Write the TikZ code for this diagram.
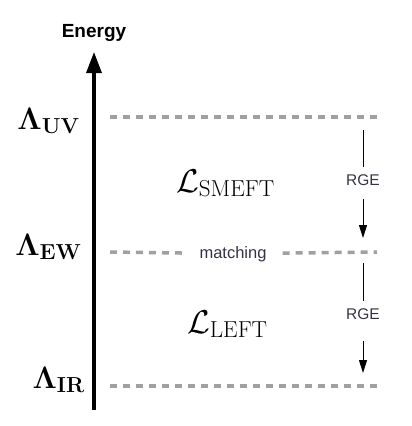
\RequirePackage{fix-cm}
\documentclass[tikz,border=0pt]{standalone}
\usepackage[no-math]{fontspec}
\newfontfamily\arialfont{Liberation Sans}
\usetikzlibrary{arrows.meta, positioning}
\definecolor{scalegray}{HTML}{a0a0a0}
\definecolor{textgray}{HTML}{333344}

\begin{document}
\begin{tikzpicture}[x=1pt, y=1pt, >={Triangle[width=8pt,length=13pt]},
        scaleline/.style={draw=scalegray, line width=3.5pt, dash pattern=on 7pt off 6pt},
        lambda/.style={anchor=base east, inner sep=0pt, font=\fontsize{31}{34}\selectfont},
        lagr/.style={anchor=base west, inner sep=0pt, font=\fontsize{33}{36}\selectfont},
        small text/.style={font=\arialfont\fontsize{15.5}{18}\selectfont, text=textgray}]
    \useasboundingbox (0,0) rectangle (412,-426);
    % energy axis
    \coordinate (axis_bot) at (94,-410);
    \coordinate (axis_top) at (94,-52);
    \node[anchor=base, font=\arialfont\bfseries\fontsize{19}{22}\selectfont] (energy) at (94,-37) {Energy};
    \draw[line width=3.3pt, -{Triangle[width=15pt,length=21pt]}] (axis_bot) -- (axis_top);
    % scales
    \node[lambda] (l_uv) at (80,-129) {$\mathbf{\Lambda_{UV}}$};
    \node[lambda] (l_ew) at (82,-255) {$\mathbf{\Lambda_{EW}}$};
    \node[lambda] (l_ir) at (85,-388) {$\mathbf{\Lambda_{IR}}$};
    \coordinate (uv_l) at (110,-117);
    \coordinate (uv_r) at (377,-117);
    \coordinate (ew_l) at (110,-252);
    \coordinate (ew_r) at (377,-252);
    \coordinate (ir_l) at (110,-386);
    \coordinate (ir_r) at (377,-386);
    \node[small text, anchor=base, font=\arialfont\fontsize{16.5}{19}\selectfont, inner xsep=16pt] (matching) at (233,-258) {matching};
    \draw[scaleline] (uv_l) -- (uv_r);
    \draw[scaleline] (ew_l) -- (matching) -- (ew_r);
    \draw[scaleline] (ir_l) -- (ir_r);
    % lagrangians
    \node[lagr] (smeft) at (176,-192) {$\mathcal{L}_{\mathrm{SMEFT}}$};
    \node[lagr] (left) at (187,-333) {$\mathcal{L}_{\mathrm{LEFT}}$};
    % running
    \coordinate (rge1_s) at (363,-130);
    \coordinate (rge1_e) at (363,-238);
    \coordinate (rge2_s) at (363,-263);
    \coordinate (rge2_e) at (363,-373);
    \node[small text, anchor=base, inner ysep=7pt] (rge1) at (363,-185) {RGE};
    \node[small text, anchor=base, inner ysep=7pt] (rge2) at (363,-319) {RGE};
    \draw[line width=1pt] (rge1_s) -- (rge1);
    \draw[->, line width=1pt, shorten <=7pt] (rge1) -- (rge1_e);
    \draw[line width=1pt] (rge2_s) -- (rge2);
    \draw[->, line width=1pt, shorten <=15pt] (rge2) -- (rge2_e);
\end{tikzpicture}
\end{document}
